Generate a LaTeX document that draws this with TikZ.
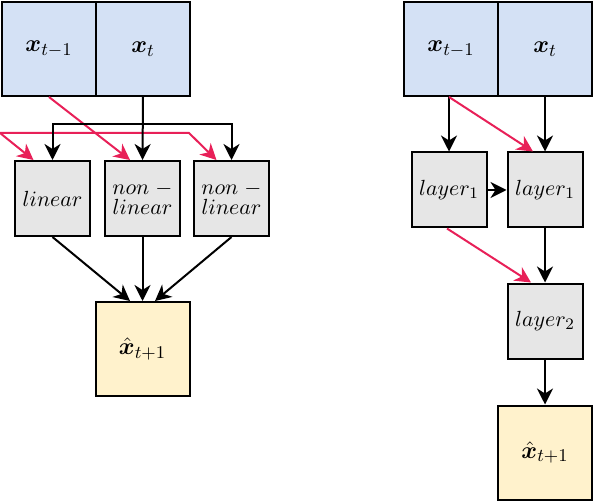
\documentclass[tikz,border=0pt]{standalone}
\usepackage{amsmath,bm}
\usetikzlibrary{arrows.meta,calc}
\definecolor{inblue}{RGB}{212,225,245}
\definecolor{laygray}{RGB}{230,230,230}
\definecolor{outyel}{RGB}{255,242,204}
\definecolor{redline}{RGB}{232,32,88}
\tikzset{
  box/.style={draw=black, line width=1pt, inner sep=0pt, align=center},
  inbox/.style={box, fill=inblue, minimum width=47pt, minimum height=47pt, font=\fontsize{13}{15}\selectfont},
  laybox/.style={box, fill=laygray, minimum width=37.5pt, minimum height=37.5pt, font=\fontsize{11}{13}\selectfont},
  outbox/.style={box, fill=outyel, minimum width=47pt, minimum height=47pt, font=\fontsize{13}{15}\selectfont},
  arr/.style={draw=black, line width=1pt, -{Stealth[length=8pt,width=8pt,inset=2.5pt]}},
  redarr/.style={draw=redline, line width=1pt, -{Stealth[length=8pt,width=8pt,inset=2.5pt]}},
}
\begin{document}
\begin{tikzpicture}[x=0.5pt,y=-0.5pt]
\useasboundingbox (0,0) rectangle (594,502);
% left diagram
\node[inbox] (a1) at (49,49) {$\bm{x}_{t-1}$};
\node[inbox] (a2) at (143,49) {$\bm{x}_{t}$};
\node[laybox] (l1) at (52.5,198.5) {$linear$};
\node[laybox] (l2) at (142.5,198.5) {$non\;{-}$\\[-3pt]$linear$};
\node[laybox] (l3) at (231.5,198.5) {$non\;{-}$\\[-3pt]$linear$};
\node[outbox] (o1) at (142.5,349) {$\hat{\bm{x}}_{t+1}$};
\coordinate (hb) at (142.5,124);
\coordinate (rl) at (0,133);
\coordinate (rk) at (189,133);
\draw[redarr] (a1.south) -- ($(l2.north)+(-12.5,0)$);
\draw[redarr] (rl) -- ($(l1.north)+(-19,0)$);
\draw[redarr] (rl) -- (rk) -- ($(l3.north)+(-15,0)$);
\draw[arr] (a2.south) -- (l2.north);
\draw[arr] (hb) -| (l1.north);
\draw[arr] (hb) -| (l3.north);
\draw[arr] (l1.south) -- ($(o1.north)+(-12.5,0)$);
\draw[arr] (l2.south) -- (o1.north);
\draw[arr] (l3.south) -- ($(o1.north)+(12.5,0)$);
% right diagram
\node[inbox] (b1) at (451,49) {$\bm{x}_{t-1}$};
\node[inbox] (b2) at (545,49) {$\bm{x}_{t}$};
\node[laybox] (r1) at (449,190) {$layer_1$};
\node[laybox] (r2) at (545,190) {$layer_1$};
\node[laybox] (r3) at (545,321) {$layer_2$};
\node[outbox] (o2) at (545,452.5) {$\hat{\bm{x}}_{t+1}$};
\draw[arr] (r1.north |- b1.south) -- (r1.north);
\draw[arr] (b2.south) -- (r2.north);
\draw[redarr] (r1.north |- b1.south) -- ($(r2.north)+(-12,0)$);
\draw[arr] (r1.east) -- (r2.west);
\draw[redarr] ($(r1.south)+(-2,0)$) -- ($(r3.north)+(-14,0)$);
\draw[arr] (r2.south) -- (r3.north);
\draw[arr] (r3.south) -- (o2.north);
\end{tikzpicture}
\end{document}
